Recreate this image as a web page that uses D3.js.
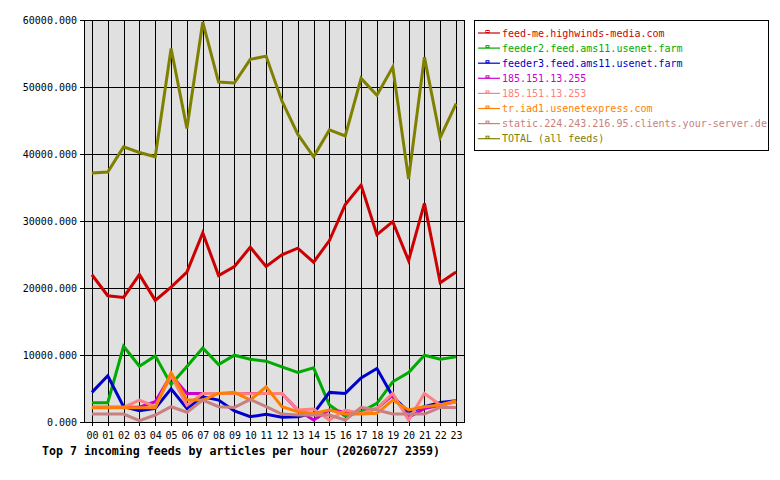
<!DOCTYPE html>
<meta charset="utf-8">
<style>
body {
  margin: 0;
  background: #fff;
}
svg {
  font-family: "DejaVu Sans Mono", monospace;
  font-size: 10px;
}
.grid line {
  stroke: #000;
  stroke-width: 1;
  shape-rendering: crispEdges;
}
.series {
  fill: none;
  stroke-width: 3;
  stroke-linejoin: miter;
}
</style>
<body>
<script src="https://cdn.jsdelivr.net/npm/d3@7"></script>
<script>

var width = 780,
    height = 480;

// hours of the day (x categories)
var hours = ["00", "01", "02", "03", "04", "05", "06", "07", "08", "09", "10", "11",
             "12", "13", "14", "15", "16", "17", "18", "19", "20", "21", "22", "23"];

var yTicks = [0, 10000, 20000, 30000, 40000, 50000, 60000];

// articles per hour
var feedMe   = [21980, 18850, 18600, 22000, 18150, 20130, 22370, 28230, 21870, 23210, 26090, 23210,
                24950, 25940, 23850, 27080, 32440, 35370, 27970, 29910, 24100, 32630, 20790, 22370];
var feeder2  = [2870, 2870, 11310, 8330, 9870, 5600, 8300, 11050, 8580, 9970, 9375, 9080,
                8230, 7390, 8080, 2530, 890, 1530, 2780, 6000, 7390, 9970, 9375, 9720];
var feeder3  = [4420, 6890, 2280, 1680, 2040, 4950, 2040, 3770, 3270, 1640, 790, 1140,
                700, 790, 1290, 4420, 4270, 6590, 7990, 3800, 1530, 2280, 2930, 3170];
var ip255    = [2200, 2200, 2200, 2200, 3020, 7000, 4270, 4270, 4270, 4270, 4270, 4270,
                4270, 1790, 300, 1790, 1500, 1290, 2040, 4000, 700, 2000, 2500, 3000];
var ip253    = [2200, 2200, 2200, 3270, 2280, 6900, 2500, 4270, 4270, 4270, 4200, 4270,
                4270, 1790, 1930, 300, 1790, 1290, 2040, 4270, 300, 4270, 2530, 3020];
var usenetEx = [2130, 2130, 2130, 2130, 2130, 7350, 3270, 3270, 4270, 4420, 3270, 5250,
                2280, 1530, 1290, 1790, 1190, 1190, 1300, 3270, 1790, 2280, 2530, 3170];
var yourSrv  = [1190, 1190, 1190, 190, 1040, 2280, 1450, 3270, 2280, 2180, 3370, 2280,
                1190, 1040, 1040, 1040, 300, 2180, 1790, 1190, 1190, 1190, 2180, 2180];
var total    = [37150, 37300, 41070, 40220, 39580, 55750, 43800, 59700, 50740, 50590, 54120, 54610,
                47910, 42950, 39580, 43600, 42700, 51290, 48760, 52970, 36260, 54460, 42460, 47510];

var names = ["feed-me.highwinds-media.com", "feeder2.feed.ams11.usenet.farm",
             "feeder3.feed.ams11.usenet.farm", "185.151.13.255", "185.151.13.253",
             "tr.iad1.usenetexpress.com", "static.224.243.216.95.clients.your-server.de",
             "TOTAL (all feeds)"];
var colors = ["#cc0000", "#00aa00", "#0000cc", "#cc00cc", "#ff8080", "#ff8000", "#c88080", "#808000"];

var title = "Top 7 incoming feeds by articles per hour (20260727 2359)";

var series = [feedMe, feeder2, feeder3, ip255, ip253, usenetEx, yourSrv, total].map(function(v, i) {
  return {name: names[i], color: colors[i], values: v};
});

var plot = {left: 84, top: 20, right: 464, bottom: 422};

var x = d3.scalePoint()
    .domain(hours)
    .range([plot.left, plot.right])
    .padding(0.5);

var y = d3.scaleLinear()
    .domain([0, 60000])
    .range([plot.bottom, plot.top]);

var svg = d3.select("body").append("svg")
    .attr("width", width)
    .attr("height", height);

// plot background
svg.append("rect")
    .attr("x", plot.left)
    .attr("y", plot.top)
    .attr("width", plot.right - plot.left)
    .attr("height", plot.bottom - plot.top)
    .attr("fill", "#e0e0e0");

var grid = svg.append("g").attr("class", "grid");

grid.selectAll(".vx")
    .data(hours)
  .enter().append("line")
    .attr("x1", function(d) { return Math.round(x(d)) + 0.5; })
    .attr("x2", function(d) { return Math.round(x(d)) + 0.5; })
    .attr("y1", plot.top)
    .attr("y2", plot.bottom + 4);

grid.selectAll(".hy")
    .data(yTicks)
  .enter().append("line")
    .attr("x1", plot.left - 4)
    .attr("x2", plot.right)
    .attr("y1", function(d) { return Math.round(y(d)) + 0.5; })
    .attr("y2", function(d) { return Math.round(y(d)) + 0.5; });

// frame
svg.append("rect")
    .attr("x", plot.left + 0.5)
    .attr("y", plot.top + 0.5)
    .attr("width", plot.right - plot.left)
    .attr("height", plot.bottom - plot.top)
    .attr("fill", "none")
    .attr("stroke", "#000")
    .attr("shape-rendering", "crispEdges");

// y labels
svg.selectAll(".ylab")
    .data(yTicks)
  .enter().append("text")
    .attr("x", 77)
    .attr("y", function(d) { return y(d) + 4; })
    .attr("text-anchor", "end")
    .text(d3.format(".3f"));

// x labels
svg.selectAll(".xlab")
    .data(hours)
  .enter().append("text")
    .attr("x", function(d) { return x(d) + 0.5; })
    .attr("y", 439)
    .attr("text-anchor", "middle")
    .text(function(d) { return d; });

var line = d3.line()
    .x(function(d, i) { return x(hours[i]); })
    .y(function(d) { return y(d); });

svg.selectAll(".series")
    .data(series)
  .enter().append("path")
    .attr("class", "series")
    .attr("stroke", function(d) { return d.color; })
    .attr("d", function(d) { return line(d.values); });

svg.append("text")
    .attr("x", 42)
    .attr("y", 455)
    .style("font-weight", "bold")
    .style("font-size", "11.6px")
    .text(title);

// legend
var legend = svg.append("g");

legend.append("rect")
    .attr("x", 474.5)
    .attr("y", 20.5)
    .attr("width", 294)
    .attr("height", 130)
    .attr("fill", "#fff")
    .attr("stroke", "#000");

var item = legend.selectAll(".item")
    .data(series)
  .enter().append("g")
    .attr("transform", function(d, i) { return "translate(0," + (33 + i * 15.1) + ")"; });

item.append("line")
    .attr("x1", 478)
    .attr("x2", 500)
    .attr("stroke", function(d) { return d.color; })
    .attr("stroke-width", 1.2);

item.append("rect")
    .attr("x", 486)
    .attr("y", -2.5)
    .attr("width", 3)
    .attr("height", 2)
    .attr("fill", "none")
    .attr("stroke", function(d) { return d.color; })
    .attr("stroke-width", 1);

item.append("text")
    .attr("x", 502)
    .attr("y", 3.5)
    .attr("fill", function(d) { return d.color; })
    .text(function(d) { return d.name; });

</script>
